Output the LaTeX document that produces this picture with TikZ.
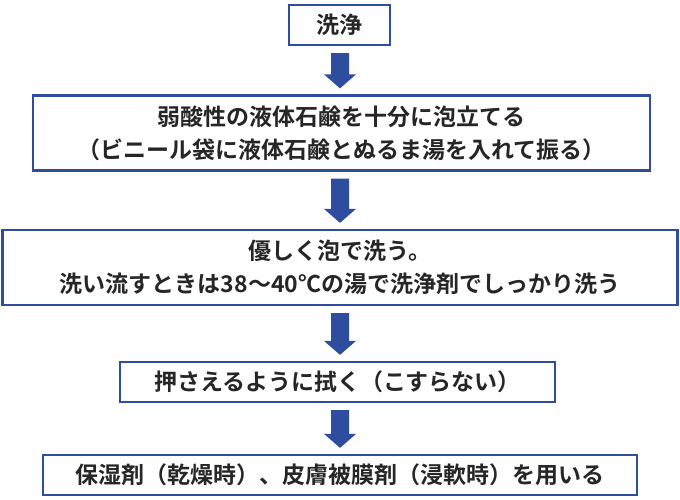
\documentclass[tikz,border=0pt]{standalone}
\usetikzlibrary{calc}
\usepackage{fontspec}
\newfontfamily\jp{Noto Sans CJK JP Bold}
\definecolor{bl}{HTML}{2E4D9F}
\begin{document}
\begin{tikzpicture}[x=1pt,y=-1pt,
 box/.style={draw=bl,line width=2.2pt,fill=white,inner sep=0pt,font=\jp\fontsize{23}{33}\selectfont,align=center,text=black!85}]
\useasboundingbox (0,0) rectangle (680,500);
\node[box,minimum width=101,minimum height=40] (b1) at (339.5,25) {洗浄};
\node[box,minimum width=617,minimum height=75] (b2) at (341.5,133) {弱酸性の液体石鹸を十分に泡立てる\\（ビニール袋に液体石鹸とぬるま湯を入れて振る）};
\node[box,minimum width=675,minimum height=75] (b3) at (340,267.5) {優しく泡で洗う。\\洗い流すときは38～40℃の湯で洗浄剤でしっかり洗う};
\node[box,minimum width=435,minimum height=40] (b4) at (337.5,382) {押さえるように拭く（こすらない）};
\node[box,minimum width=594,minimum height=40] (b5) at (340,475) {保湿剤（乾燥時）、皮膚被膜剤（浸軟時）を用いる};
\foreach \a/\b in {b1/b2,b2/b3,b3/b4,b4/b5}{
 \path (340,0) coordinate (c);
 \path (c |- \a.south) coordinate (s) (c |- \b.north) coordinate (e);
 \fill[bl] ($(s)+(-9,7)$) -- ($(s)+(9,7)$) -- ($(e)+(9,-20)$) -- ($(e)+(16,-20)$) -- ($(e)+(0,-6)$) -- ($(e)+(-16,-20)$) -- ($(e)+(-9,-20)$) -- cycle;
}
\end{tikzpicture}
\end{document}
